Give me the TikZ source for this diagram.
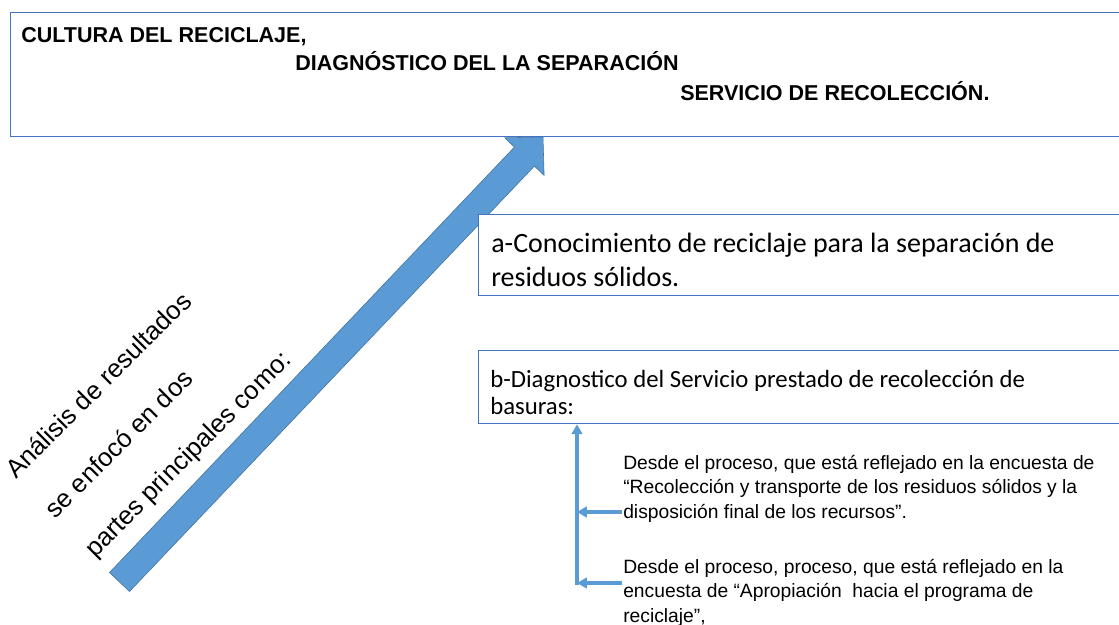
\documentclass[tikz,border=0pt]{standalone}
\usepackage{fontspec}
\setmainfont{Liberation Sans}
\newfontfamily\calibri{Carlito}
\usetikzlibrary{arrows.meta,positioning}
\definecolor{boxblue}{HTML}{4472C4}
\definecolor{arrowblue}{HTML}{5B9BD5}
\definecolor{arrowedge}{HTML}{41719C}

\begin{document}
\begin{tikzpicture}[
    x=0.025cm, y=-0.025cm,
    >={Triangle[length=7pt,width=7.5pt]},
    box/.style={
		rectangle,
		draw=boxblue,
		line width=0.9pt,
		fill=white,
		anchor=north west,
		inner sep=0pt
	},
    titulo/.style={
		anchor=base west,
		inner sep=0pt,
		font=\fontsize{15.3}{18}\selectfont\bfseries
	},
    parte/.style={
		anchor=base west,
		inner sep=0pt,
		align=left
	},
    nota/.style={
		anchor=base west,
		inner sep=0pt,
		align=left,
		font=\fontsize{13.7}{17.4}\selectfont
	},
    giro/.style={
		anchor=base west,
		inner sep=0pt,
		rotate=45,
		align=left,
		font=\fontsize{18.3}{39.7}\selectfont
	},
    flecha/.style={
		draw=arrowblue,
		line width=2.4pt,
		->
	}
  ]
  \useasboundingbox (0,0) rectangle (1119,625);

  % The big arrow goes first, the boxes cover its tip
  \filldraw[fill=arrowblue, draw=arrowedge, line width=0.4pt]
    (109.5,572.5) -- (514.4,147.1) -- (504.7,137.8) -- (543,137)
    -- (544.1,175.4) -- (534.4,166.1) -- (129.5,591.5) -- cycle;

  % Title block
  \node [box, minimum width=28cm, minimum height=3.1cm] (cabecera) at (10,12) {};
  \node [titulo] (linea1) at (21,42) {CULTURA DEL RECICLAJE,};
  \node [titulo] (linea2) at (295,70) {DIAGNÓSTICO DEL LA SEPARACIÓN};
  \node [titulo] (linea3) at (680,100) {SERVICIO DE RECOLECCIÓN.};

  % The two parts (base = last line)
  \node [box, minimum width=16.3cm, minimum height=2.025cm] (partea) at (478,214) {};
  \node [parte, font=\calibri\fontsize{19.9}{24.1}\selectfont] (textoa) at (491,286)
  {a-Conocimiento de reciclaje para la separación de\\residuos sólidos.};

  \node [box, minimum width=16.3cm, minimum height=1.825cm] (parteb) at (478,350) {};
  \node [parte, font=\calibri\fontsize{17.6}{19.2}\selectfont] (textob) at (490,414)
  {b-Diagnostico del Servicio prestado de recolección de\\basuras:};

  % Rotated text along the arrow
  \node [giro] (analisis) at (95,559)
  {Análisis de resultados\\se enfocó en dos\\partes principales como:};

  % Notes under part b
  \node [nota] (nota1) at (623,518)
  {Desde el proceso, que está reflejado en la encuesta de\\“Recolección y transporte de los residuos sólidos y la\\disposición final de los recursos”.};
  \node [nota] (nota2) at (623,622)
  {Desde el proceso, proceso, que está reflejado en la\\encuesta de “Apropiación\ \ hacia el programa de\\reciclaje”,};

  \coordinate (pie) at (577,585);
  \coordinate (codo1) at (577,512);
  \coordinate (codo2) at (577,583);
  \coordinate (salida1) at (622,512);
  \coordinate (salida2) at (622,583);
  \draw [flecha] (pie) -- (pie |- parteb.south);
  \draw [flecha] (salida1) -- (codo1);
  \draw [flecha] (salida2) -- (codo2);

\end{tikzpicture}
\end{document}
